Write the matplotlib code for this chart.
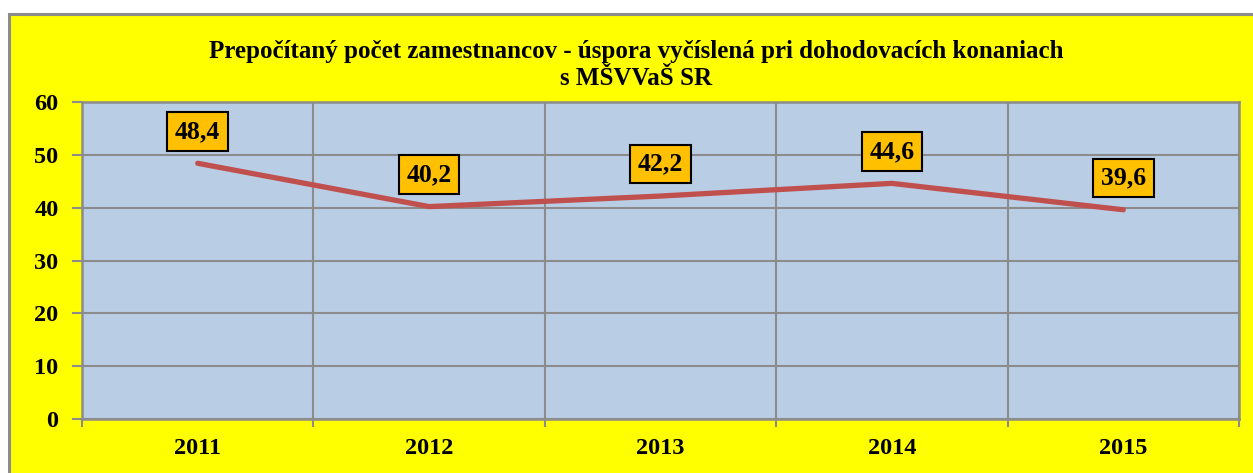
import matplotlib
matplotlib.use("Agg")
import matplotlib.pyplot as plt
from matplotlib.patches import Rectangle

years = ["2011", "2012", "2013", "2014", "2015"]
values = [48.4, 40.2, 42.2, 44.6, 39.6]
labels = ["48,4", "40,2", "42,2", "44,6", "39,6"]
yticks = [0, 10, 20, 30, 40, 50, 60]
title = "Prepočítaný počet zamestnancov - úspora vyčíslená pri dohodovacích konaniach\ns MŠVVaŠ SR"

W, H = 1253, 473
fig = plt.figure(figsize=(W / 100, H / 100), dpi=100)
fig.patch.set_facecolor("white")

# outer chart frame (extends beyond right and bottom edges)
frame = Rectangle((9 / W, -0.05), 1.1, 1 - 14 / H + 0.05, transform=fig.transFigure,
                  facecolor="#FFFF00", edgecolor="#8C8C8C", linewidth=2.2, zorder=-10)
fig.patches.append(frame)

plt.rcParams["font.family"] = ["Liberation Serif", "DejaVu Serif"]

left, right, top, bottom = 82, 1239, 102, 419
ax = fig.add_axes([left / W, 1 - bottom / H, (right - left) / W, (bottom - top) / H])
ax.set_facecolor("#B9CDE5")

n = len(years)
xs = [i + 0.5 for i in range(n)]
ax.plot(xs, values, color="#C0504D", linewidth=3.8, solid_capstyle="round", zorder=3)

for x, v, lab in zip(xs, values, labels):
    ax.annotate(lab, (x, v), xytext=(0, 23), textcoords="offset points",
                ha="center", va="center", fontsize=18.5, fontweight="bold",
                bbox=dict(boxstyle="square,pad=0.3", facecolor="#FFC000",
                          edgecolor="black", linewidth=1.5), zorder=4)

ax.set_xlim(0, n)
ax.set_ylim(0, 60)
ax.set_yticks(yticks)
ax.set_yticklabels([str(t) for t in yticks], fontsize=17.5, fontweight="bold")
ax.set_xticks(range(n + 1))
ax.set_xticklabels([])
ax.set_xticks(xs, minor=True)
ax.set_xticklabels(years, minor=True, fontsize=17.5, fontweight="bold")
ax.tick_params(axis="x", which="minor", length=0, pad=14)
ax.tick_params(axis="x", which="major", length=6, width=1.5, color="#8C8C8C")
ax.tick_params(axis="y", length=7, width=1.5, color="#8C8C8C", pad=10)

ax.grid(True, which="major", color="#8C8C8C", linewidth=1.5)
ax.set_axisbelow(True)
for s in ax.spines.values():
    s.set_color("#8C8C8C")
    s.set_linewidth(1.8)

fig.text(636 / W, 1 - 65 / H, title, ha="center", va="center", fontsize=18,
         fontweight="bold", linespacing=1.2)

fig.savefig("out.png", dpi=100, facecolor=fig.get_facecolor())
